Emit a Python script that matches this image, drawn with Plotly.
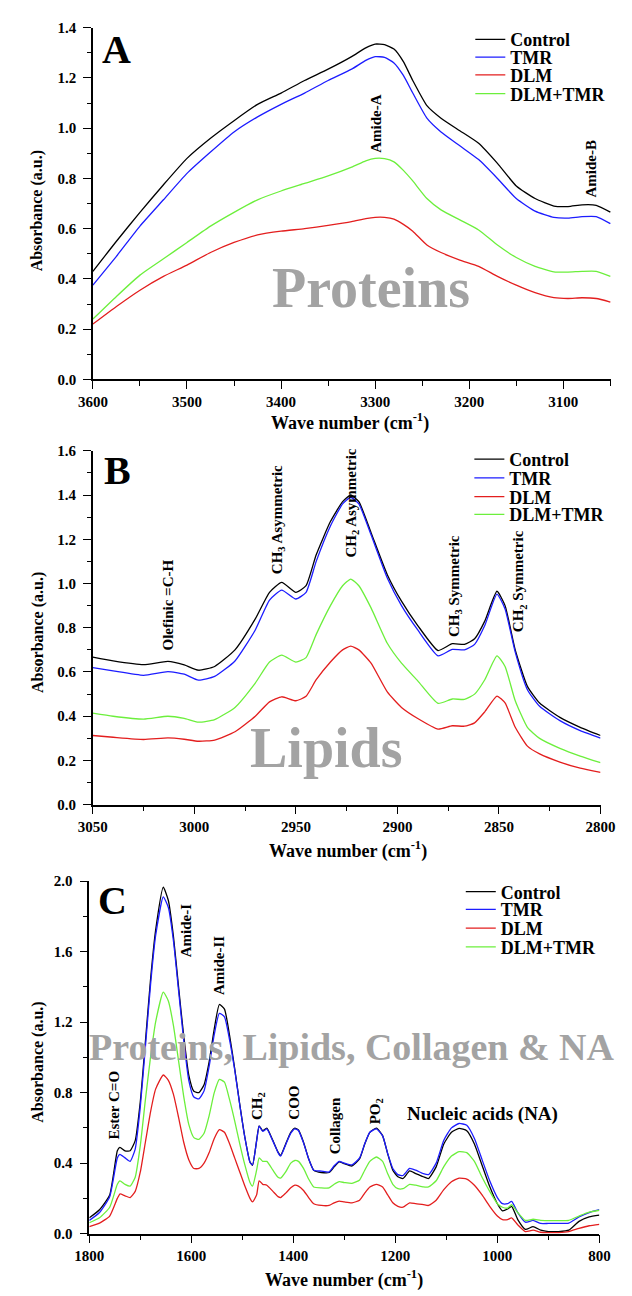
import plotly.graph_objects as go

FONT = "Liberation Serif, Times New Roman, serif"
W, H = 632, 1296

# ---------------- Panel A (Proteins) ----------------
wn_A = [3600, 3575, 3550, 3525, 3500, 3475, 3450, 3425, 3400, 3375, 3350, 3325, 3310, 3300,
        3290, 3280, 3270, 3260, 3245, 3230, 3210, 3190, 3170, 3150, 3130, 3110, 3095, 3080, 3065, 3050]
control_A = [0.43, 0.55, 0.665, 0.775, 0.88, 0.96, 1.03, 1.095, 1.14, 1.19, 1.235, 1.285, 1.32, 1.335,
             1.333, 1.315, 1.265, 1.19, 1.09, 1.04, 0.99, 0.94, 0.86, 0.77, 0.72, 0.69, 0.688, 0.695, 0.693, 0.666]
tmr_A = [0.375, 0.49, 0.61, 0.715, 0.82, 0.905, 0.985, 1.045, 1.095, 1.14, 1.19, 1.235, 1.27, 1.285,
         1.282, 1.26, 1.21, 1.14, 1.04, 0.985, 0.93, 0.875, 0.80, 0.72, 0.67, 0.645, 0.642, 0.648, 0.648, 0.62]
dlm_A = [0.22, 0.29, 0.355, 0.41, 0.455, 0.505, 0.545, 0.575, 0.59, 0.60, 0.613, 0.628, 0.64, 0.645,
         0.645, 0.638, 0.617, 0.59, 0.535, 0.505, 0.475, 0.45, 0.41, 0.375, 0.345, 0.325, 0.322, 0.325, 0.322, 0.308]
dlmtmr_A = [0.24, 0.33, 0.415, 0.48, 0.545, 0.61, 0.665, 0.715, 0.75, 0.78, 0.81, 0.845, 0.87, 0.88,
            0.879, 0.866, 0.832, 0.79, 0.72, 0.675, 0.635, 0.595, 0.535, 0.485, 0.45, 0.428, 0.427, 0.43, 0.43, 0.41]

# ---------------- Panel B (Lipids) ----------------
wn_B = [3050, 3040, 3025, 3013, 3005, 2998, 2990, 2980, 2970, 2963, 2957, 2950, 2945, 2940, 2933,
        2927, 2923, 2919, 2913, 2905, 2898, 2890, 2880, 2873, 2867, 2862, 2857, 2851, 2847, 2842,
        2836, 2830, 2820, 2810, 2800]
control_B = [0.667, 0.65, 0.633, 0.648, 0.632, 0.608, 0.625, 0.70, 0.84, 0.96, 1.005, 0.96, 0.99, 1.13, 1.28,
             1.37, 1.40, 1.37, 1.23, 1.04, 0.92, 0.81, 0.697, 0.728, 0.725, 0.75, 0.83, 0.965, 0.90, 0.70,
             0.535, 0.46, 0.395, 0.35, 0.313]
tmr_B = [0.62, 0.605, 0.585, 0.602, 0.59, 0.563, 0.58, 0.65, 0.79, 0.925, 0.97, 0.93, 0.96, 1.10, 1.26,
         1.36, 1.39, 1.36, 1.22, 1.025, 0.90, 0.79, 0.673, 0.702, 0.70, 0.725, 0.81, 0.952, 0.885, 0.69,
         0.52, 0.445, 0.38, 0.335, 0.301]
dlm_B = [0.313, 0.305, 0.295, 0.302, 0.296, 0.287, 0.292, 0.33, 0.40, 0.465, 0.488, 0.47, 0.49, 0.565, 0.645,
         0.70, 0.717, 0.70, 0.64, 0.51, 0.44, 0.39, 0.342, 0.357, 0.355, 0.37, 0.42, 0.491, 0.46, 0.35,
         0.265, 0.23, 0.193, 0.165, 0.146]
dlmtmr_B = [0.414, 0.40, 0.387, 0.40, 0.39, 0.373, 0.385, 0.44, 0.55, 0.645, 0.676, 0.645, 0.665, 0.77, 0.90,
            0.99, 1.02, 0.99, 0.89, 0.73, 0.64, 0.56, 0.458, 0.478, 0.476, 0.50, 0.565, 0.673, 0.625, 0.47,
            0.35, 0.30, 0.255, 0.22, 0.19]

# ---------------- Panel C (fingerprint) ----------------
wn_C = [1800, 1780, 1760, 1745, 1740, 1730, 1720, 1710, 1700, 1690, 1680, 1670, 1655, 1645, 1635,
        1625, 1615, 1605, 1595, 1585, 1575, 1565, 1555, 1545, 1535, 1525, 1515, 1505, 1495, 1485,
        1480, 1472, 1467, 1460, 1452, 1440, 1430, 1425, 1415, 1405, 1397, 1390, 1380, 1370, 1360,
        1345, 1330, 1320, 1310, 1300, 1285, 1270, 1260, 1250, 1237, 1225, 1215, 1205, 1195, 1185,
        1172, 1160, 1145, 1135, 1120, 1105, 1090, 1075, 1060, 1045, 1030, 1015, 1000, 990, 980,
        972, 960, 945, 930, 915, 900, 880, 860, 840, 820, 800]
control_C = [0.09, 0.136, 0.22, 0.47, 0.49, 0.47, 0.47, 0.528, 0.75, 1.09, 1.44, 1.72, 1.965, 1.89, 1.685,
             1.40, 1.125, 0.90, 0.808, 0.80, 0.845, 0.976, 1.162, 1.30, 1.274, 1.125, 0.938, 0.733, 0.547, 0.407,
             0.388, 0.528, 0.612, 0.584, 0.599, 0.528, 0.463, 0.444, 0.509, 0.575, 0.599, 0.588, 0.519, 0.425, 0.36,
             0.347, 0.347, 0.379, 0.407, 0.397, 0.384, 0.425, 0.509, 0.575, 0.599, 0.556, 0.453, 0.36, 0.323, 0.313,
             0.356, 0.341, 0.323, 0.313, 0.379, 0.509, 0.575, 0.597, 0.584, 0.509, 0.388, 0.267, 0.17, 0.13, 0.14,
             0.155, 0.08, 0.024, 0.04, 0.02, 0.012, 0.012, 0.02, 0.07, 0.095, 0.105]
tmr_C = [0.075, 0.12, 0.21, 0.43, 0.45, 0.43, 0.41, 0.48, 0.72, 1.06, 1.41, 1.69, 1.91, 1.85, 1.66,
         1.38, 1.10, 0.87, 0.775, 0.765, 0.81, 0.95, 1.13, 1.25, 1.23, 1.10, 0.93, 0.73, 0.545, 0.405,
         0.39, 0.525, 0.61, 0.58, 0.595, 0.525, 0.46, 0.44, 0.505, 0.57, 0.595, 0.585, 0.515, 0.425, 0.36,
         0.355, 0.35, 0.385, 0.41, 0.40, 0.39, 0.43, 0.51, 0.575, 0.595, 0.555, 0.455, 0.37, 0.335, 0.33,
         0.37, 0.36, 0.34, 0.335, 0.40, 0.53, 0.60, 0.625, 0.615, 0.54, 0.42, 0.30, 0.205, 0.17, 0.17,
         0.183, 0.12, 0.065, 0.075, 0.058, 0.058, 0.058, 0.06, 0.095, 0.12, 0.136]
dlm_C = [0.04, 0.06, 0.10, 0.20, 0.225, 0.215, 0.205, 0.24, 0.35, 0.52, 0.69, 0.82, 0.90, 0.87, 0.79,
         0.66, 0.52, 0.42, 0.37, 0.37, 0.40, 0.46, 0.54, 0.59, 0.575, 0.51, 0.43, 0.35, 0.27, 0.20,
         0.18, 0.22, 0.30, 0.28, 0.275, 0.24, 0.21, 0.205, 0.23, 0.26, 0.275, 0.27, 0.245, 0.205, 0.17,
         0.16, 0.16, 0.175, 0.185, 0.18, 0.175, 0.19, 0.23, 0.265, 0.28, 0.265, 0.22, 0.175, 0.155, 0.15,
         0.175, 0.17, 0.165, 0.16, 0.19, 0.25, 0.295, 0.315, 0.31, 0.275, 0.22, 0.155, 0.10, 0.08, 0.08,
         0.09, 0.05, 0.012, 0.02, 0.008, 0.006, 0.006, 0.012, 0.03, 0.045, 0.053]
dlmtmr_C = [0.062, 0.09, 0.15, 0.28, 0.30, 0.28, 0.27, 0.32, 0.50, 0.76, 1.00, 1.20, 1.37, 1.32, 1.18,
            0.98, 0.78, 0.62, 0.545, 0.535, 0.57, 0.67, 0.80, 0.875, 0.86, 0.76, 0.64, 0.51, 0.39, 0.29,
            0.27, 0.36, 0.43, 0.41, 0.41, 0.36, 0.32, 0.315, 0.35, 0.40, 0.415, 0.41, 0.37, 0.31, 0.265,
            0.26, 0.26, 0.28, 0.295, 0.29, 0.285, 0.305, 0.36, 0.41, 0.435, 0.41, 0.34, 0.28, 0.255, 0.255,
            0.28, 0.275, 0.265, 0.265, 0.30, 0.38, 0.44, 0.465, 0.46, 0.41, 0.32, 0.24, 0.17, 0.15, 0.145,
            0.164, 0.12, 0.075, 0.082, 0.075, 0.074, 0.074, 0.076, 0.10, 0.122, 0.133]

series_names = ["Control", "TMR", "DLM", "DLM+TMR"]
colors = ["#000000", "#1c1cff", "#e31e1e", "#6cef3c"]

panels = [
    dict(xa="x", ya="y", wn=wn_A, vals=[control_A, tmr_A, dlm_A, dlmtmr_A]),
    dict(xa="x2", ya="y2", wn=wn_B, vals=[control_B, tmr_B, dlm_B, dlmtmr_B]),
    dict(xa="x3", ya="y3", wn=wn_C, vals=[control_C, tmr_C, dlm_C, dlmtmr_C]),
]

# legend row centres (px from top) and text left positions
legend_rows = [[32, 50, 68, 87], [457, 476, 495, 513], [895, 913, 932, 951]]
legend_text_x = [518, 517, 508]

fig = go.Figure()
layout_legends = {}
k = 1
for p, pan in enumerate(panels):
    for i, name in enumerate(series_names):
        lname = "legend" if k == 1 else f"legend{k}"
        fig.add_trace(go.Scatter(
            x=pan["wn"], y=pan["vals"][i], xaxis=pan["xa"], yaxis=pan["ya"],
            mode="lines", name=name, legend=lname, showlegend=True,
            line=dict(color=colors[i], width=1.3, shape="spline", smoothing=0.5),
            hoverinfo="skip"))
        layout_legends[lname] = dict(
            x=(legend_text_x[p] - 40) / W, xanchor="left",
            y=1 - legend_rows[p][i] / H, yanchor="middle",
            bgcolor="rgba(0,0,0,0)", borderwidth=0, visible=True,
            font=dict(family=FONT, size=18, color="black", weight="bold"),
            itemwidth=30)
        k += 1

tickfont = dict(family=FONT, size=15, color="black", weight="bold")

def xaxis_cfg(domain, rng, dtick, mdtick, anchor):
    return dict(domain=domain, range=rng, autorange=False, anchor=anchor,
                showline=True, linecolor="black", linewidth=1.5, mirror=False,
                ticks="outside", ticklen=8, tickwidth=1.4, tickcolor="black",
                dtick=dtick, tick0=0, tickfont=tickfont, showgrid=False, zeroline=False,
                minor=dict(ticks="outside", ticklen=4.5, tickwidth=1.4, tickcolor="black",
                           dtick=mdtick, tick0=0, showgrid=False))

def yaxis_cfg(domain, rng, dtick, mdtick, anchor):
    return dict(domain=domain, range=rng, autorange=False, anchor=anchor,
                showline=True, linecolor="black", linewidth=1.5, mirror=False,
                ticks="outside", ticklen=8, tickwidth=1.4, tickcolor="black",
                dtick=dtick, tick0=0, tickformat=".1f", tickfont=tickfont,
                ticklabelstandoff=4, showgrid=False, zeroline=False,
                minor=dict(ticks="outside", ticklen=4.5, tickwidth=1.4, tickcolor="black",
                           dtick=mdtick, tick0=0, showgrid=False))

def px2x(px):
    return px / W

def px2y(py):
    return 1 - py / H

annotations = []

def ann(text, x, y, xref, yref, size=15, angle=0, color="black", weight="bold"):
    annotations.append(dict(text=text, x=x, y=y, xref=xref, yref=yref, showarrow=False,
                            textangle=angle, xanchor="center", yanchor="middle",
                            font=dict(family=FONT, size=size, color=color, weight=weight)))

# panel letters
ann("A", 3575, 1.313, "x", "y", size=40)
ann("B", 3038, 1.512, "x2", "y2", size=40)
ann("C", 1755, 1.892, "x3", "y3", size=40)

# watermarks
gray = "#a3a3a3"
ann("Proteins", 3304, 0.365, "x", "y", size=56, color=gray)
ann("Lipids", 2935, 0.255, "x2", "y2", size=56, color=gray)
ann("Proteins, Lipids, Collagen &amp; NA", 1284, 1.06, "x3", "y3", size=38, color=gray)

# peak labels A
ann("Amide-A", 3299, 1.018, "x", "y", angle=-90)
ann("Amide-B", 3071, 0.838, "x", "y", angle=-90)
# peak labels B
ann("Olefinic =C-H", 3013, 0.905, "x2", "y2", angle=-90)
ann("CH<sub>3</sub> Asymmetric", 2959, 1.289, "x2", "y2", angle=-90)
ann("CH<sub>2</sub> Asymmetric", 2922.5, 1.365, "x2", "y2", angle=-90)
ann("CH<sub>3</sub> Symmetric", 2872, 0.99, "x2", "y2", angle=-90)
ann("CH<sub>2</sub> Symmetric", 2840, 1.012, "x2", "y2", angle=-90)
# peak labels C
ann("Amide-I", 1611, 1.719, "x3", "y3", angle=-90)
ann("Amide-II", 1546, 1.523, "x3", "y3", angle=-90)
ann("Ester C=O", 1751, 0.728, "x3", "y3", angle=-90)
ann("CH<sub>2</sub>", 1468, 0.722, "x3", "y3", angle=-90)
ann("COO", 1398, 0.745, "x3", "y3", angle=-90)
ann("Collagen", 1318, 0.61, "x3", "y3", angle=-90)
ann("PO<sub>2</sub>", 1238, 0.694, "x3", "y3", angle=-90)
ann("Nucleic acids (NA)", 1029, 0.677, "x3", "y3", size=19)

# axis titles
xtitle = "Wave number (cm<sup>-1</sup>)"
for cx, cy in [(352, 419), (350, 853), (345, 1287)]:
    ann(xtitle, px2x(cx), px2y(cy), "paper", "paper", size=18)
for cy in [205, 632, 1067]:
    ann("Absorbance (a.u.)", px2x(24), px2y(cy), "paper", "paper", size=16, angle=-90)

fig.update_layout(
    width=W, height=H, margin=dict(l=0, r=0, t=0, b=0),
    paper_bgcolor="white", plot_bgcolor="white", showlegend=True,
    font=dict(family=FONT, color="black"),
    xaxis=xaxis_cfg([px2x(81.8), px2x(626)], [3600, 3049], 100, 50, "y"),
    yaxis=yaxis_cfg([px2y(376), px2y(20)], [0, 1.4], 0.2, 0.1, "x"),
    xaxis2=xaxis_cfg([px2x(81.7), px2x(614.7)], [3050, 2800], 50, 25, "y2"),
    yaxis2=yaxis_cfg([px2y(806.7), px2y(448.3)], [0, 1.6], 0.2, 0.1, "x2"),
    xaxis3=xaxis_cfg([px2x(78), px2x(613.5)], [1800, 800], 200, 100, "y3"),
    yaxis3=yaxis_cfg([px2y(1241), px2y(884)], [0, 2.0], 0.4, 0.2, "x3"),
    annotations=annotations,
    **layout_legends,
)

fig.write_html("out.html")
